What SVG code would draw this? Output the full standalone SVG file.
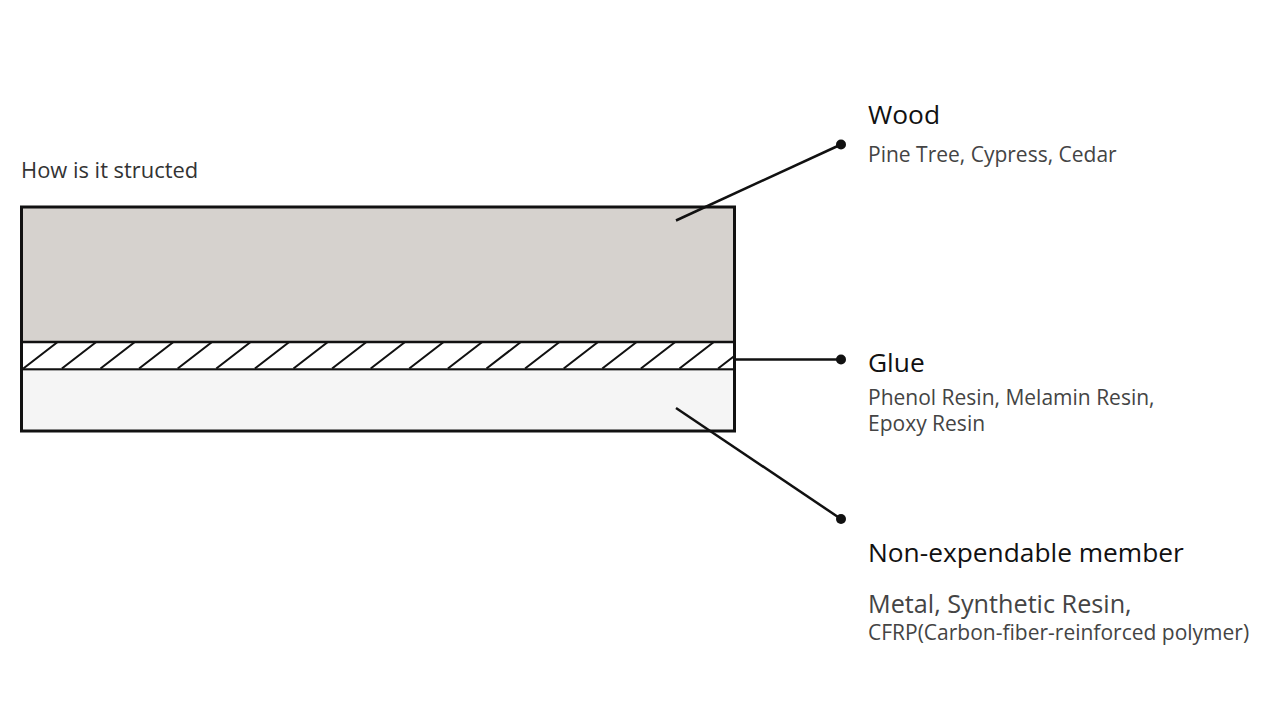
<svg xmlns="http://www.w3.org/2000/svg" width="1281" height="702" viewBox="0 0 1281 702">
<style>
.t{font-family:"Open Sans","Noto Sans","Liberation Sans",sans-serif}
.h{fill:#111;font-size:26.3px}
.s{fill:#444;font-size:21px}
.ln{stroke:#111;stroke-width:2.5;fill:none}
.hatch{stroke:#111;stroke-width:2}
</style>
<defs>
<clipPath id="gc"><rect x="21" y="342" width="714" height="27"/></clipPath>
</defs>
<rect width="1281" height="702" fill="#fff"/>
<text class="t" x="21" y="178" style="font-size:21.9px" fill="#333">How is it structed</text>
<g id="wood">
<rect x="21.5" y="207" width="713" height="135" fill="#d6d2ce"/>
</g>
<g id="glue">
<rect x="21.5" y="342" width="713" height="27" fill="#fff"/>
<g clip-path="url(#gc)" class="hatch">
<path d="M23.3 368.5l35 -27M61.9 368.5l35 -27M100.5 368.5l35 -27M139.1 368.5l35 -27M177.7 368.5l35 -27M216.3 368.5l35 -27M254.9 368.5l35 -27M293.5 368.5l35 -27M332.1 368.5l35 -27M370.7 368.5l35 -27M409.3 368.5l35 -27M447.9 368.5l35 -27M486.5 368.5l35 -27M525.1 368.5l35 -27M563.7 368.5l35 -27M602.3 368.5l35 -27M640.9 368.5l35 -27M679.5 368.5l35 -27M718.1 368.5l35 -27"/>
</g>
<line x1="21.5" y1="342" x2="734.5" y2="342" stroke="#111" stroke-width="2.5"/>
<line x1="21.5" y1="369.5" x2="734.5" y2="369.5" stroke="#111" stroke-width="2.5"/>
</g>
<g id="member">
<rect x="21.5" y="370.5" width="713" height="60" fill="#f5f5f5"/>
</g>
<rect x="21.5" y="207" width="713" height="224" fill="none" stroke="#111" stroke-width="3"/>
<g id="connectors">
<line class="ln" x1="676" y1="220.5" x2="841" y2="144.5"/>
<circle cx="841" cy="144.5" r="5" fill="#111"/>
<line class="ln" x1="735" y1="359.5" x2="841" y2="359.5"/>
<circle cx="841" cy="359.5" r="5" fill="#111"/>
<line class="ln" x1="676" y1="408" x2="841" y2="519"/>
<circle cx="841" cy="519" r="5" fill="#111"/>
</g>
<g id="label-wood">
<text class="t h" x="868" y="124">Wood</text>
<text class="t s" x="868" y="162">Pine Tree, Cypress, Cedar</text>
</g>
<g id="label-glue">
<text class="t h" x="868" y="371.5">Glue</text>
<text class="t s" x="868" y="405">Phenol Resin, Melamin Resin,</text>
<text class="t s" x="868" y="431">Epoxy Resin</text>
</g>
<g id="label-member">
<text class="t h" x="868" y="561.5">Non-expendable member</text>
<text class="t s" x="868" y="613" style="font-size:25.2px">Metal, Synthetic Resin,</text>
<text class="t s" x="868" y="640">CFRP(Carbon-fiber-reinforced polymer)</text>
</g>
</svg>
